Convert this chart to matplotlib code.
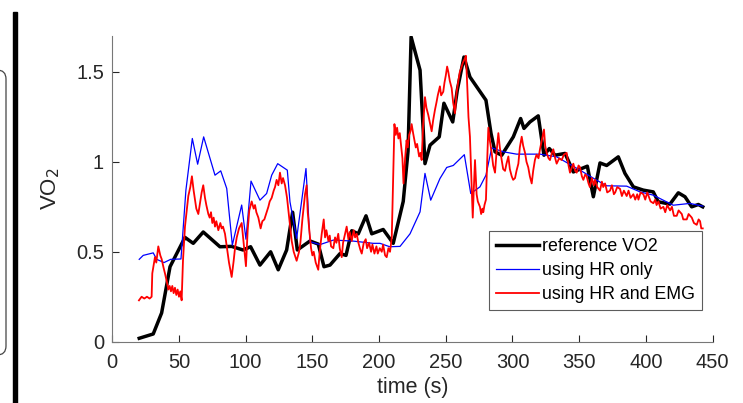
#!/usr/bin/env python3
import matplotlib
matplotlib.use("Agg")
import matplotlib.pyplot as plt
from matplotlib.patches import Rectangle, FancyBboxPatch
from matplotlib.transforms import IdentityTransform

plt.rcParams['font.family'] = ['Liberation Sans', 'DejaVu Sans']

# reference VO2 (black)
ref_t = [20.2, 30.7, 37, 43.3, 54.5, 60.7, 68.2, 80.7, 89.5, 98, 103.7, 110.7, 118.7,
         124.4, 130.7, 135.2, 138.7, 148.2, 154.4, 158.7, 163.2, 170.7, 175.2, 179.5,
         184.4, 190.2, 194.5, 203.1, 210.6, 218.1, 221.7, 224, 230.7, 234.4, 238.2,
         245.1, 248.6, 255.2, 258.6, 263.6, 268.1, 280.1, 283.9, 286.9, 291.9, 300.6,
         306.1, 308.6, 313.1, 319.3, 323.6, 327.6, 331.9, 339.4, 345.6, 356.1, 360.6,
         365.6, 370.6, 379.3, 384.3, 390.6, 398, 405.5, 409.3, 418, 424.3, 429.3,
         434.3, 439.3, 442.6]
ref_v = [0.019, 0.043, 0.16, 0.417, 0.58, 0.547, 0.61, 0.528, 0.53, 0.51, 0.528, 0.426,
         0.50, 0.40, 0.51, 0.72, 0.51, 0.56, 0.543, 0.417, 0.426, 0.49, 0.48, 0.617,
         0.60, 0.70, 0.60, 0.624, 0.547, 0.78, 1.06, 1.695, 1.51, 0.99, 1.093,
         1.139, 1.326, 1.222, 1.398, 1.583, 1.472, 1.343, 1.158, 1.056, 1.037, 1.139,
         1.241, 1.186, 1.222, 1.256, 1.037, 1.074, 1.037, 1.047, 0.944, 0.976, 0.806,
         0.994, 0.98, 1.028, 0.936, 0.861, 0.843, 0.833, 0.778, 0.765, 0.828, 0.806,
         0.75, 0.763, 0.75]

# using HR only (blue)
hr_t = [20.2, 23.2, 30.7, 33.3, 38.8, 43.8, 51.5, 55.2, 60, 64, 68.5, 77, 81.3, 85.8,
        90, 97, 100.2, 104, 110.7, 115.7, 119.5, 124, 131.2, 133.2, 138.2, 145.2,
        148.2, 155.7, 165.7, 180, 195.6, 200.7, 208, 215.7, 223.2, 230.7, 234.4,
        238.7, 245.6, 250.7, 255.6, 263.9, 268.7, 275.6, 280.1, 284.4, 293.1, 303.1,
        320.6, 333.1, 350.6, 363.1, 370.6, 385.6, 395.6, 405.5, 420.5, 433, 442.6]
hr_v = [0.458, 0.48, 0.494, 0.458, 0.44, 0.458, 0.46, 0.843, 1.13, 0.987, 1.139, 0.926,
        0.95, 0.852, 0.537, 0.76, 0.57, 0.893, 0.787, 0.824, 0.926, 0.99, 0.954, 0.778,
        0.574, 0.963, 0.556, 0.54, 0.565, 0.56, 0.547, 0.547, 0.528, 0.53, 0.60, 0.722,
        0.936, 0.787, 0.907, 0.969, 0.98, 1.04, 0.824, 0.861, 0.926, 1.078, 1.056,
        1.043, 1.043, 1.028, 0.954, 0.898, 0.867, 0.865, 0.833, 0.815, 0.759, 0.769,
        0.754]

# using HR and EMG (red)
emg_t = [20, 22, 24, 26, 28, 29.5, 30, 32, 33, 34.5, 36, 37, 38.5, 39.5, 41, 42, 43, 44,
         45, 46, 47, 48, 49, 50, 51, 52, 53, 54.5, 56, 57, 58.5, 59.7, 61, 62, 63, 64.5,
         66, 67, 68.2, 69.5, 70.5, 72, 73, 74, 75, 76, 77, 78, 79.5, 81, 82, 83, 84.5,
         86, 87.5, 89.5, 91, 92, 93.3, 95, 97, 98.5, 100.2, 101.5, 102.7, 104.5, 106,
         107, 108, 109.5, 111.2, 112.5, 114, 115.7, 117, 118, 119.5, 121, 122, 123.2,
         124.5, 125.7, 127, 128, 129.5, 131, 132, 133.5, 134.5, 136, 138.2, 140, 141,
         142.5, 144.5, 145.7, 146.5, 147.7, 149, 150, 151, 152.5, 154.4, 155.5, 157,
         158.5, 159.5, 160.5, 162, 163, 164, 165.7, 167, 168, 169.4, 170.5, 172, 173,
         174.5, 175.7, 177, 178, 179.5, 181, 182, 183.2, 184.5, 186, 187, 188.5, 190,
         191, 192.5, 194, 195, 196.5, 198, 199, 200.5, 202, 203, 204.5, 205.7, 207,
         208.2, 209.5, 210.5, 211.5, 212.5, 213.5, 214.5, 215.5, 216.5, 217.5, 218.3,
         219.5, 220.6, 221.5, 222.5, 223.5, 224.4, 225.5, 226.5, 227.5, 228.5, 230,
         231, 231.9, 233, 234.4, 235.5, 236.9, 238, 239.4, 240.5, 241.9, 243, 244,
         245.6, 246.5, 248.1, 249, 250, 251, 251.9, 253, 254.4, 255.5, 256.9, 258,
         259.4, 260.5, 261.5, 262.7, 264, 265.1, 266.1, 267, 268.1, 269, 270.2, 271,
         271.9, 273.1, 274, 275.6, 276.5, 277.5, 278.1, 279, 280.1, 281, 281.9, 283,
         284.4, 285.5, 286.9, 288, 289.4, 290.5, 291.9, 293, 294.4, 295.5, 296.9, 298,
         299.4, 300.5, 301.9, 303, 304.4, 305.5, 306.9, 308, 309.4, 310.5, 311.8, 313,
         314.4, 315.5, 316.8, 318, 319.5, 320.6, 322, 323.6, 324.5, 325.6, 327, 328.1,
         329.5, 330.6, 332, 333.1, 335, 336.9, 338.5, 340.6, 342, 343.1, 344.5, 345.6,
         347, 348.1, 349.5, 350.6, 352, 353.1, 354.5, 355.6, 357, 358, 359.5, 361,
         361.9, 363.5, 365.6, 367, 368, 369.4, 371, 373.1, 374.5, 376, 377, 378.5,
         380.6, 382, 383.5, 385.6, 387, 388.5, 390.6, 392, 393.5, 394.4, 396, 398.1,
         399.5, 401, 402, 403.5, 405.6, 407, 408, 409.4, 411, 413.1, 414.5, 416, 418.1,
         419.5, 421, 423.1, 424.5, 426.9, 428, 430.6, 432, 434.4, 436, 438.1, 439.5,
         440.6, 441.5, 442.6]
emg_v = [0.23, 0.25, 0.24, 0.25, 0.24, 0.25, 0.38, 0.47, 0.44, 0.53, 0.48, 0.46, 0.41,
         0.38, 0.33, 0.29, 0.31, 0.28, 0.31, 0.27, 0.30, 0.26, 0.29, 0.25, 0.28, 0.23,
         0.45, 0.64, 0.74, 0.81, 0.86, 0.92, 0.84, 0.79, 0.74, 0.71, 0.78, 0.83, 0.87,
         0.80, 0.76, 0.71, 0.69, 0.72, 0.66, 0.69, 0.64, 0.67, 0.62, 0.66, 0.63, 0.64,
         0.60, 0.52, 0.44, 0.36, 0.45, 0.52, 0.58, 0.63, 0.66, 0.55, 0.42, 0.62, 0.73,
         0.78, 0.74, 0.76, 0.72, 0.69, 0.63, 0.67, 0.68, 0.72, 0.75, 0.78, 0.80, 0.84,
         0.86, 0.90, 0.87, 0.94, 0.88, 0.91, 0.87, 0.80, 0.73, 0.62, 0.56, 0.50, 0.45,
         0.50, 0.55, 0.68, 0.82, 0.87, 0.72, 0.62, 0.52, 0.48, 0.50, 0.44, 0.40, 0.50,
         0.60, 0.68, 0.58, 0.62, 0.56, 0.59, 0.53, 0.52, 0.58, 0.55, 0.60, 0.52, 0.47,
         0.55, 0.60, 0.64, 0.57, 0.61, 0.56, 0.62, 0.58, 0.60, 0.55, 0.51, 0.49, 0.55,
         0.57, 0.52, 0.55, 0.50, 0.54, 0.49, 0.53, 0.49, 0.52, 0.50, 0.54, 0.48, 0.47,
         0.52, 0.50, 0.58, 0.90, 1.21, 1.15, 1.19, 1.13, 1.16, 1.09, 1.02, 0.88, 1.02,
         1.12, 1.08, 1.15, 1.17, 1.21, 1.16, 1.12, 1.08, 1.10, 1.03, 1.05, 1.01, 1.20,
         1.36, 1.30, 1.26, 1.22, 1.17, 1.23, 1.29, 1.33, 1.37, 1.42, 1.37, 1.39, 1.44,
         1.48, 1.53, 1.50, 1.45, 1.41, 1.33, 1.27, 1.38, 1.45, 1.50, 1.52, 1.55, 1.57,
         1.59, 1.42, 1.25, 1.14, 0.95, 0.69, 0.85, 1.01, 0.82, 0.78, 0.75, 0.71, 0.74,
         0.72, 0.76, 0.79, 1.00, 1.19, 1.12, 1.05, 0.98, 0.94, 1.05, 1.16, 1.08, 1.01,
         0.96, 0.95, 0.99, 1.03, 0.96, 0.92, 0.90, 0.91, 0.95, 0.99, 1.08, 1.14, 1.09,
         1.05, 1.00, 0.97, 0.92, 0.88, 0.95, 1.01, 1.04, 1.02, 1.07, 1.12, 1.18, 1.09,
         1.05, 1.02, 1.01, 1.05, 1.07, 1.02, 0.99, 1.02, 1.01, 1.04, 1.05, 0.98, 0.94,
         0.97, 0.99, 0.95, 0.94, 0.98, 0.97, 0.92, 0.90, 0.93, 0.92, 0.88, 0.86, 0.91,
         0.87, 0.90, 0.86, 0.84, 0.89, 0.86, 0.88, 0.83, 0.84, 0.87, 0.82, 0.83, 0.86,
         0.85, 0.81, 0.84, 0.81, 0.84, 0.80, 0.82, 0.79, 0.82, 0.79, 0.83, 0.82, 0.79,
         0.83, 0.81, 0.78, 0.77, 0.79, 0.76, 0.78, 0.74, 0.75, 0.72, 0.76, 0.73, 0.75,
         0.70, 0.70, 0.73, 0.71, 0.68, 0.68, 0.71, 0.69, 0.66, 0.65, 0.68, 0.67, 0.63,
         0.63]

xticks = [0, 50, 100, 150, 200, 250, 300, 350, 400, 450]
yticks = [0, 0.5, 1, 1.5]
ytick_labels = ["0", "0.5", "1", "1.5"]

fig = plt.figure(figsize=(7.43, 4.03), dpi=100)
ax = fig.add_axes([0.1511, 0.1521, 0.808, 0.7586])

ax.plot(ref_t, ref_v, color="black", lw=2.5, label="reference VO2")
ax.plot(hr_t, hr_v, color="blue", lw=0.9, label="using HR only")
ax.plot(emg_t, emg_v, color="red", lw=1.3, label="using HR and EMG")

ax.set_xlim(0, 450)
ax.set_ylim(0, 1.7)
ax.set_xticks(xticks)
ax.set_yticks(yticks)
ax.set_yticklabels(ytick_labels)
ax.tick_params(direction="in", length=5, width=0.8, labelsize=14.5,
               colors="#262626")
ax.tick_params(axis="x", pad=8)
ax.tick_params(axis="y", pad=6)
for side in ("top", "right"):
    ax.spines[side].set_visible(False)
for side in ("left", "bottom"):
    ax.spines[side].set_color("#777777")
    ax.spines[side].set_linewidth(0.8)

ax.set_xlabel("time (s)", fontsize=15.5, color="#262626", labelpad=4)
ax.set_ylabel("VO$_2$", fontsize=16, color="#262626", labelpad=10)

leg = ax.legend(loc="lower right", bbox_to_anchor=(0.983, 0.103), fontsize=12.8,
                frameon=True, fancybox=False, handlelength=2.4, handletextpad=0.2,
                borderpad=0.4, labelspacing=0.4, borderaxespad=0)
leg.get_frame().set_edgecolor("#333333")
leg.get_frame().set_linewidth(0.8)

# bits of neighbouring panels visible at the left edge
fig.add_artist(Rectangle((13, 0), 3.5, 391, color="black",
                         transform=IdentityTransform()))
fig.add_artist(FancyBboxPatch((-30, 48), 36, 285,
                              boxstyle="round,pad=0,rounding_size=9",
                              facecolor="none", edgecolor="#444444", lw=0.9,
                              transform=IdentityTransform()))

fig.savefig("out.png", dpi=100)
